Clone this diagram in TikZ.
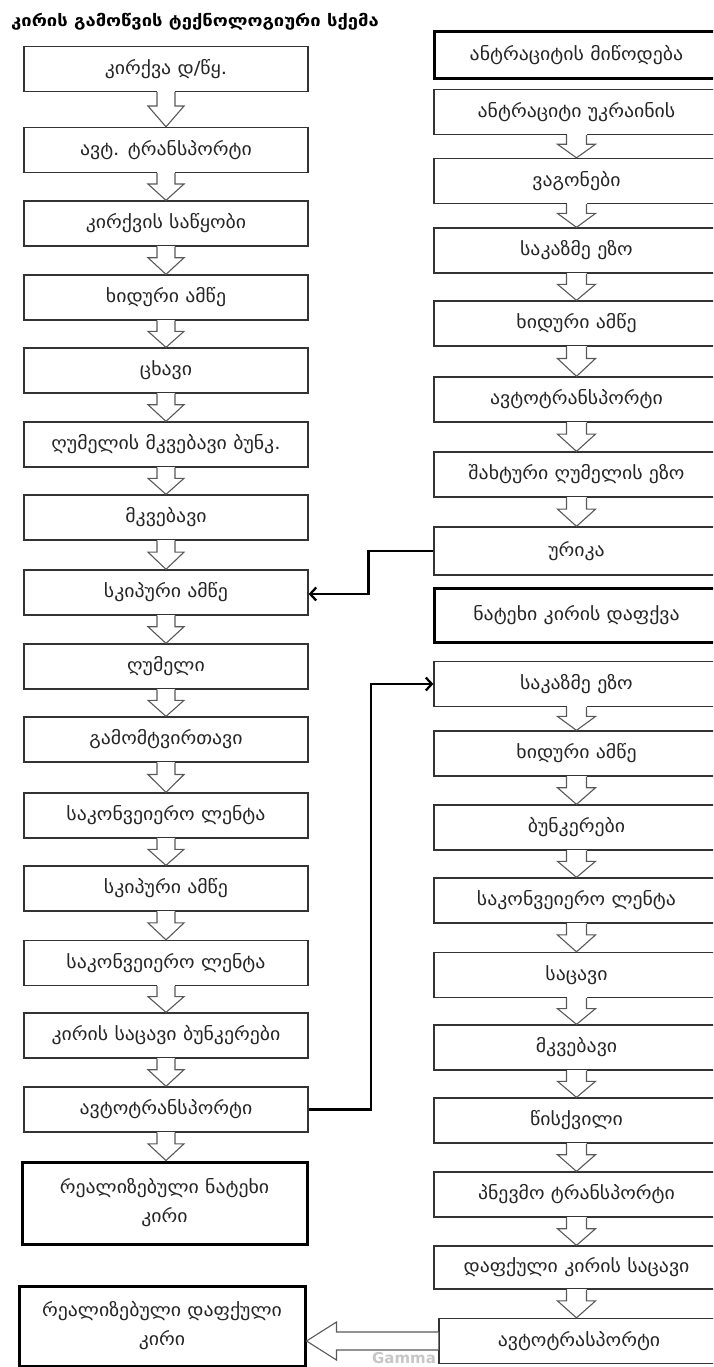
\documentclass[tikz,border=0pt]{standalone}
\usepackage{fontspec}
\setmainfont{DejaVu Sans}
\newfontfamily\geofont[FakeStretch=1.1]{DejaVu Sans}
\newfontfamily\geotitle[FakeStretch=1.15]{DejaVu Sans}
\usetikzlibrary{arrows.meta,calc}
\tikzset{
  box/.style={draw=black!80, line width=1.3pt, fill=white, minimum width=284pt, minimum height=45pt, inner sep=0pt, align=center, font=\geofont\fontsize{18}{29}\selectfont, text=black!85},
  thickbox/.style={box, draw=black, line width=3pt},
  harr/.style={draw=black!65, line width=1.1pt, line join=miter},
  conn/.style={draw=black, line width=2.3pt, -{Straight Barb[length=6pt,width=13pt,line width=2.3pt]}},
}
\newcommand\harrow[4]{%
  \fill[white] let \p1=(#1.south), \p2=(#2.north), \n1={0.4*(\y1-\y2)} in
    (\x1-#3pt,\y1+1pt) rectangle (\x1+#3pt,\y1-\n1);
  \draw[harr] let \p1=(#1.south), \p2=(#2.north), \n1={0.4*(\y1-\y2)} in
    (\x1-#3pt,\y1) -- (\x1-#3pt,\y1-\n1) -- (\x1-#4pt,\y1-\n1) -- (\x1,\y2)
    -- (\x1+#4pt,\y1-\n1) -- (\x1+#3pt,\y1-\n1) -- (\x1+#3pt,\y1);
}
\begin{document}
\begin{tikzpicture}[x=1pt,y=-1pt]
\useasboundingbox (0,0) rectangle (713,1367);
\clip (0,0) rectangle (713,1367);
\fill[white] (0,0) rectangle (713,1367);

\node[anchor=west, font=\geotitle\fontsize{16}{18}\selectfont\bfseries, inner sep=0pt] (title) at (11,22) {კირის გამოწვის ტექნოლოგიური სქემა};

% left column
\node[box] (L1) at (166,69) {კირქვა დ/წყ.};
\node[box] (L2) at (166,150) {ავტ. ტრანსპორტი};
\node[box] (L3) at (166,223.5) {კირქვის საწყობი};
\node[box] (L4) at (166,297.5) {ხიდური ამწე};
\node[box] (L5) at (166,370.5) {ცხავი};
\node[box] (L6) at (166,444.5) {ღუმელის მკვებავი ბუნკ.};
\node[box] (L7) at (166,517.5) {მკვებავი};
\node[box] (L8) at (166,592.5) {სკიპური ამწე};
\node[box] (L9) at (166,666.5) {ღუმელი};
\node[box] (L10) at (166,739.5) {გამომტვირთავი};
\node[box] (L11) at (166,815.5) {საკონვეიერო ლენტა};
\node[box] (L12) at (166,888.5) {სკიპური ამწე};
\node[box] (L13) at (166,963) {საკონვეიერო ლენტა};
\node[box] (L14) at (166,1035.5) {კირის საცავი ბუნკერები};
\node[box] (L15) at (166,1109.5) {ავტოტრანსპორტი};
\node[thickbox, minimum width=285pt, minimum height=82pt] (L16) at (164.5,1203) {რეალიზებული ნატეხი\\კირი};
\node[thickbox, minimum width=286pt, minimum height=80pt] (L17) at (162,1326) {რეალიზებული დაფქული\\კირი};

% right column
\node[thickbox, minimum width=285pt, minimum height=47pt] (R1) at (576.5,55.5) {ანტრაციტის მიწოდება};
\node[box, minimum width=285pt] (R2) at (576.5,112) {ანტრაციტი უკრაინის};
\node[box, minimum width=285pt] (R3) at (576.5,181) {ვაგონები};
\node[box, minimum width=285pt] (R4) at (576.5,250.5) {საკაზმე ეზო};
\node[box, minimum width=285pt] (R5) at (576.5,323.5) {ხიდური ამწე};
\node[box, minimum width=285pt] (R6) at (576.5,399.5) {ავტოტრანსპორტი};
\node[box, minimum width=285pt] (R7) at (576.5,474.5) {შახტური ღუმელის ეზო};
\node[box, minimum width=285pt, minimum height=48pt] (R8) at (576.5,551) {ურიკა};
\node[thickbox, minimum width=285pt, minimum height=54pt] (R9) at (576.5,615) {ნატეხი კირის დაფქვა};
\node[box, minimum width=285pt] (R10) at (576.5,684) {საკაზმე ეზო};
\node[box, minimum width=285pt] (R11) at (576.5,753.5) {ხიდური ამწე};
\node[box, minimum width=285pt] (R12) at (576.5,827.5) {ბუნკერები};
\node[box, minimum width=285pt] (R13) at (576.5,900.5) {საკონვეიერო ლენტა};
\node[box, minimum width=285pt] (R14) at (576.5,975) {საცავი};
\node[box, minimum width=285pt] (R15) at (576.5,1047.5) {მკვებავი};
\node[box, minimum width=285pt] (R16) at (576.5,1120.5) {წისქვილი};
\node[box, minimum width=285pt] (R17) at (576.5,1194.5) {პნევმო ტრანსპორტი};
\node[box, minimum width=285pt, minimum height=43pt] (R18) at (576.5,1267.5) {დაფქული კირის საცავი};
\node[box, minimum width=280pt] (R19) at (579,1341) {ავტოტრასპორტი};

% hollow arrows, left
\foreach \a/\b in {L1/L2,L2/L3,L3/L4,L4/L5,L5/L6,L6/L7,L7/L8,L8/L9,L9/L10,L10/L11,L11/L12,L12/L13,L13/L14,L14/L15,L15/L16}{\harrow{\a}{\b}{9}{18}}
% hollow arrows, right
\foreach \a/\b in {R2/R3,R3/R4,R4/R5,R5/R6,R6/R7,R7/R8,R10/R11,R11/R12,R12/R13,R13/R14,R14/R15,R15/R16,R16/R17,R17/R18,R18/R19}{\harrow{\a}{\b}{10}{19}}

% watermark
\node[font=\fontsize{15}{15}\selectfont\bfseries, text=black!22, inner sep=0pt] (wm) at (404,1358) {Gamma};

% big hollow arrow to the left
\fill[white] let \p1=(R19.west), \p2=(L17.east) in
  (\x1,\y1+9pt) -- (\x2+30pt,\y1+9pt) -- (\x2+30pt,\y1+19pt) -- (\x2,\y1) -- (\x2+30pt,\y1-19pt) -- (\x2+30pt,\y1-9pt) -- (\x1,\y1-9pt) -- cycle;
\draw[harr] let \p1=(R19.west), \p2=(L17.east) in
  (\x1,\y1+9pt) -- (\x2+30pt,\y1+9pt) -- (\x2+30pt,\y1+19pt) -- (\x2,\y1) -- (\x2+30pt,\y1-19pt) -- (\x2+30pt,\y1-9pt) -- (\x1,\y1-9pt);

% connectors
\draw[conn] (R8.west) -- ++(-65,0) |- ([yshift=-1.5pt]L8.east);
\draw[conn] (L15.east) -- ++(62,0) |- (R10.west);
\end{tikzpicture}
\end{document}
